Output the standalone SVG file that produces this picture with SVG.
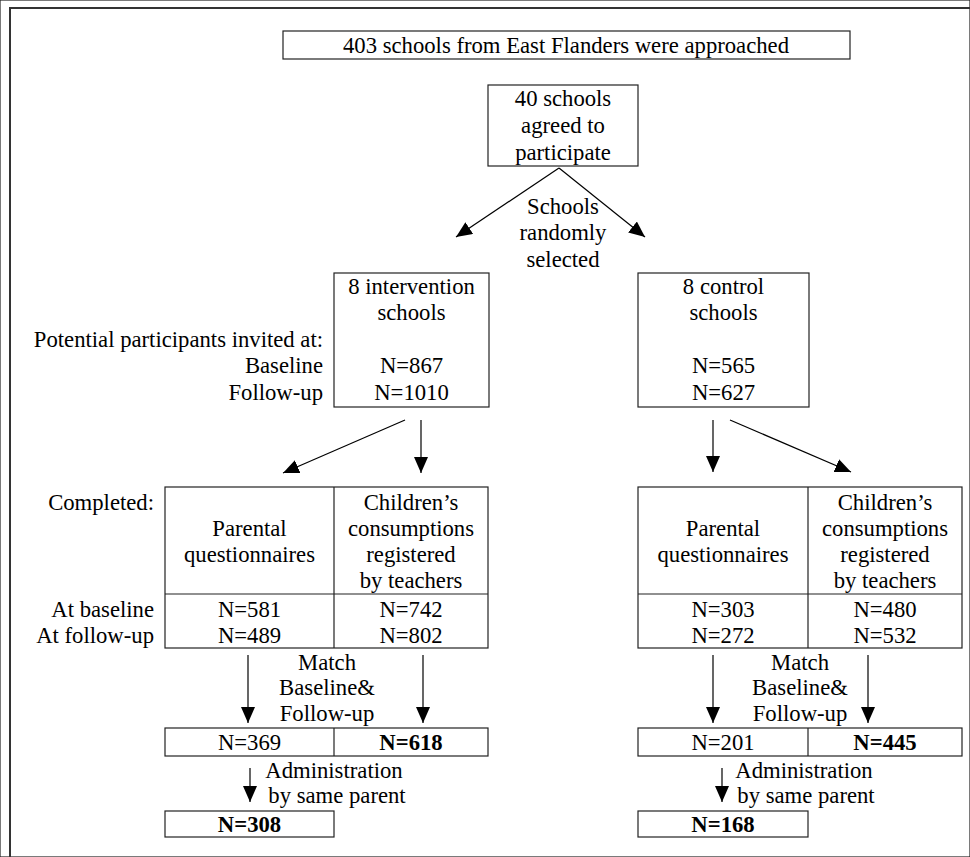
<svg xmlns="http://www.w3.org/2000/svg" width="970" height="857" viewBox="0 0 970 857">
<style>
text{font-family:"Liberation Serif","Times New Roman",serif;font-size:22.7px;fill:#000}
.c{text-anchor:middle}
.r{text-anchor:end}
.b{font-weight:bold}
rect,.div{fill:#fff;stroke:#222;stroke-width:1.2}
.div{fill:none}
.con line{stroke:#000;stroke-width:1.2;fill:none}
</style>
<defs>
<marker id="ah" markerUnits="userSpaceOnUse" markerWidth="16" markerHeight="14" refX="16" refY="7" orient="auto">
<path d="M0,0 L16,7 L0,14 z" fill="#000"/>
</marker>
</defs>
<rect width="970" height="857" fill="#fff" stroke="none"/>
<path d="M10,857 V8 H970" fill="none" stroke="#333" stroke-width="2"/>

<g id="approached">
<rect x="283" y="31" width="567" height="28"/>
<text class="c" x="566" y="53">403 schools from East Flanders were approached</text>
</g>

<g id="agreed">
<rect x="488" y="85" width="150" height="81"/>
<text class="c" x="563" y="106">40 schools</text>
<text class="c" x="563" y="133">agreed to</text>
<text class="c" x="563" y="160">participate</text>
</g>

<g id="randomly">
<text class="c" x="563" y="214">Schools</text>
<text class="c" x="563" y="240">randomly</text>
<text class="c" x="563" y="267">selected</text>
</g>

<g id="invited-labels">
<text class="r" x="323" y="347">Potential participants invited at:</text>
<text class="r" x="323" y="373">Baseline</text>
<text class="r" x="323" y="400">Follow-up</text>
</g>

<g id="intervention">
<rect x="334" y="273" width="155" height="134"/>
<text class="c" x="411.5" y="294">8 intervention</text>
<text class="c" x="411.5" y="320">schools</text>
<text class="c" x="411.5" y="373">N=867</text>
<text class="c" x="411.5" y="400">N=1010</text>
</g>

<g id="control">
<rect x="638" y="273" width="171" height="134"/>
<text class="c" x="723.5" y="294">8 control</text>
<text class="c" x="723.5" y="320">schools</text>
<text class="c" x="723.5" y="373">N=565</text>
<text class="c" x="723.5" y="400">N=627</text>
</g>

<g id="completed-labels">
<text class="r" x="154" y="510">Completed:</text>
<text class="r" x="154" y="617">At baseline</text>
<text class="r" x="154" y="643">At follow-up</text>
</g>

<g id="intervention-table">
<rect x="165" y="487" width="323" height="161"/>
<path class="div" d="M334,487 V648 M165,594 H488"/>
<text class="c" x="249.5" y="536">Parental</text>
<text class="c" x="249.5" y="562">questionnaires</text>
<text class="c" x="411" y="510">Children’s</text>
<text class="c" x="411" y="536">consumptions</text>
<text class="c" x="411" y="562">registered</text>
<text class="c" x="411" y="588">by teachers</text>
<text class="c" x="249.5" y="617">N=581</text>
<text class="c" x="249.5" y="643">N=489</text>
<text class="c" x="411" y="617">N=742</text>
<text class="c" x="411" y="643">N=802</text>
</g>

<g id="control-table">
<rect x="638" y="487" width="324" height="161"/>
<path class="div" d="M808,487 V648 M638,594 H962"/>
<text class="c" x="723" y="536">Parental</text>
<text class="c" x="723" y="562">questionnaires</text>
<text class="c" x="885" y="510">Children’s</text>
<text class="c" x="885" y="536">consumptions</text>
<text class="c" x="885" y="562">registered</text>
<text class="c" x="885" y="588">by teachers</text>
<text class="c" x="723" y="617">N=303</text>
<text class="c" x="723" y="643">N=272</text>
<text class="c" x="885" y="617">N=480</text>
<text class="c" x="885" y="643">N=532</text>
</g>

<g id="match-left">
<text class="c" x="327" y="670">Match</text>
<text class="c" x="327" y="695">Baseline&amp;</text>
<text class="c" x="327" y="721">Follow-up</text>
</g>
<g id="match-right">
<text class="c" x="800" y="670">Match</text>
<text class="c" x="800" y="695">Baseline&amp;</text>
<text class="c" x="800" y="721">Follow-up</text>
</g>

<g id="matched-left">
<rect x="165" y="728" width="323" height="28"/>
<path class="div" d="M334,728 V756"/>
<text class="c" x="249.5" y="750">N=369</text>
<text class="c b" x="411" y="750">N=618</text>
</g>
<g id="matched-right">
<rect x="638" y="728" width="324" height="28"/>
<path class="div" d="M808,728 V756"/>
<text class="c" x="723" y="750">N=201</text>
<text class="c b" x="885" y="750">N=445</text>
</g>

<g id="admin-left">
<text class="c" x="334" y="778">Administration</text>
<text class="c" x="337" y="803">by same parent</text>
</g>
<g id="admin-right">
<text class="c" x="804" y="778">Administration</text>
<text class="c" x="806" y="803">by same parent</text>
</g>

<g id="final-left">
<rect x="165" y="811" width="169" height="26"/>
<text class="c b" x="249.5" y="832">N=308</text>
</g>
<g id="final-right">
<rect x="638" y="811" width="170" height="26"/>
<text class="c b" x="723" y="832">N=168</text>
</g>

<g class="con" id="connectors">
<line x1="559" y1="168" x2="456" y2="237" marker-end="url(#ah)"/>
<line x1="559" y1="168" x2="645" y2="237" marker-end="url(#ah)"/>
<line x1="405" y1="420" x2="283" y2="473" marker-end="url(#ah)"/>
<line x1="421" y1="420" x2="421" y2="473" marker-end="url(#ah)"/>
<line x1="713" y1="420" x2="713" y2="472" marker-end="url(#ah)"/>
<line x1="730" y1="420" x2="851" y2="472" marker-end="url(#ah)"/>
<line x1="248" y1="655" x2="248" y2="723" marker-end="url(#ah)"/>
<line x1="423" y1="655" x2="423" y2="723" marker-end="url(#ah)"/>
<line x1="713" y1="655" x2="713" y2="723" marker-end="url(#ah)"/>
<line x1="868" y1="655" x2="868" y2="723" marker-end="url(#ah)"/>
<line x1="250" y1="768" x2="250" y2="802" marker-end="url(#ah)"/>
<line x1="722" y1="768" x2="722" y2="802" marker-end="url(#ah)"/>
</g>
</svg>
